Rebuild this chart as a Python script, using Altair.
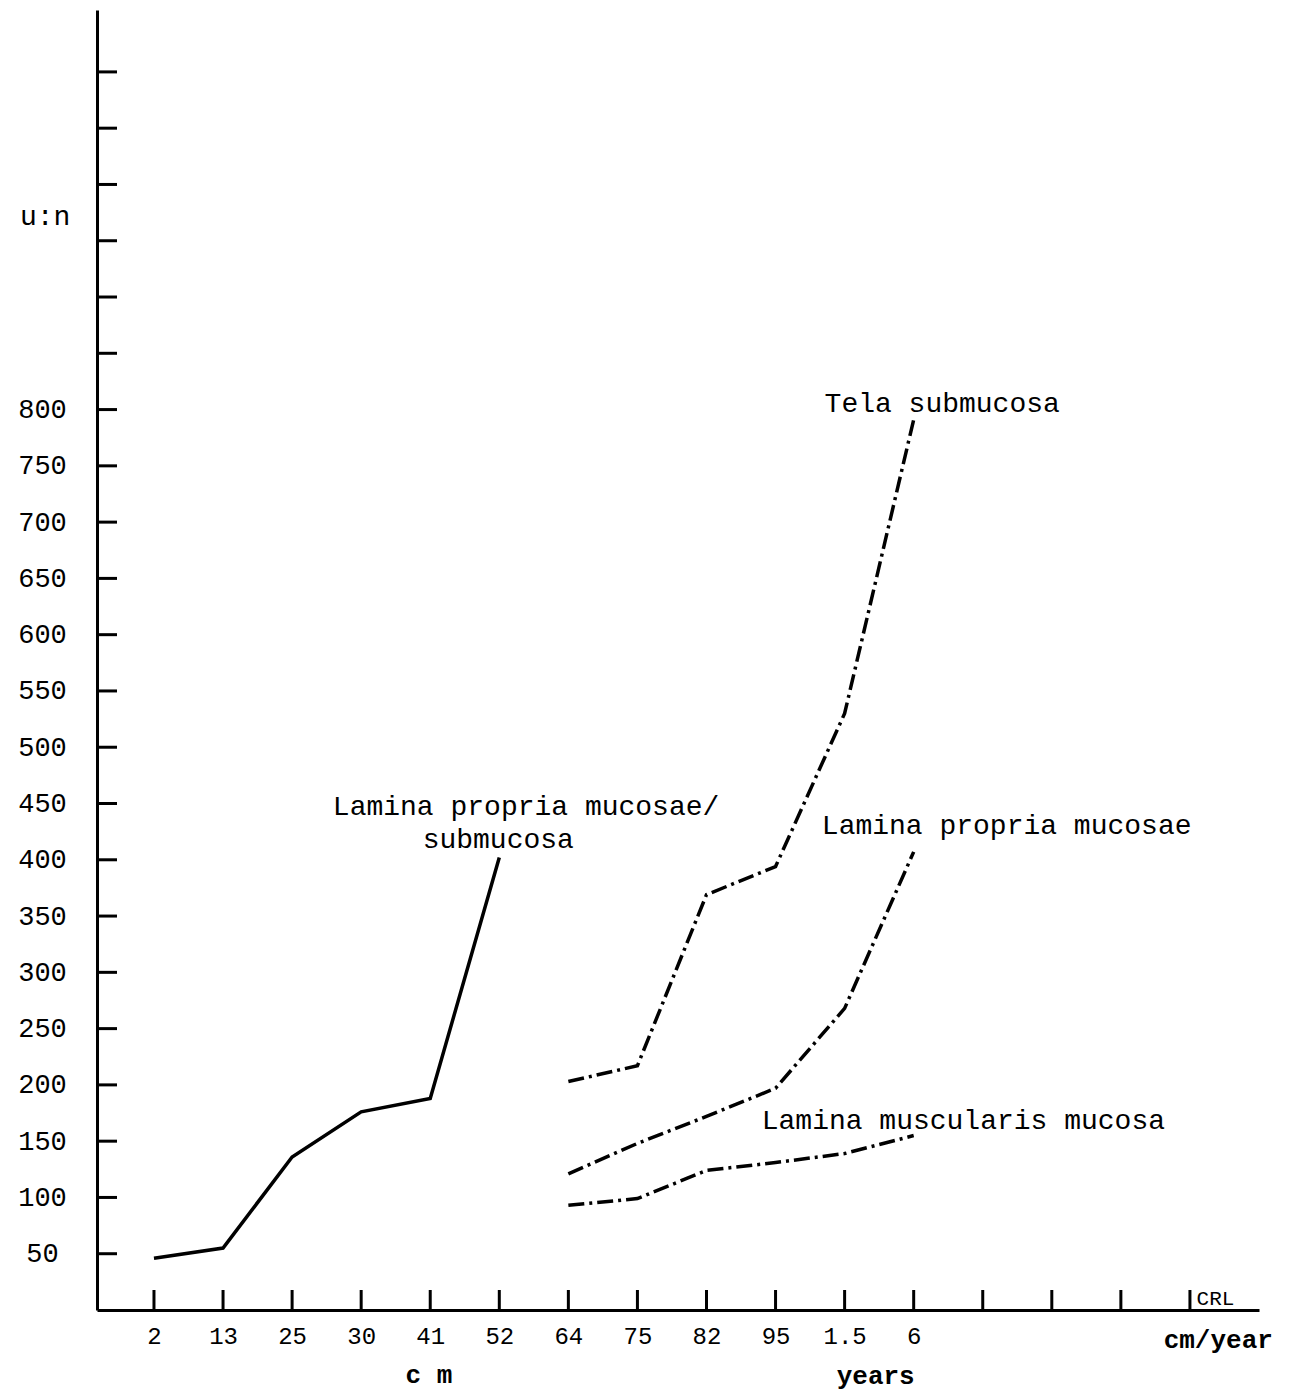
import json
import altair as alt
import pandas as pd

# ---- data ----
x_labels = ["2", "13", "25", "30", "41", "52", "64", "75", "82", "95", "1.5", "6"]
x_index_cm = [0, 1, 2, 3, 4, 5]
x_index_late = [6, 7, 8, 9, 10, 11]

lamina_propria_submucosa = [46, 55, 136, 176, 188, 402]
tela_submucosa = [203, 217, 369, 394, 530, 791]
lamina_propria_mucosae = [121, 148, 172, 197, 268, 407]
lamina_muscularis_mucosa = [93, 99, 124, 131, 139, 155]

y_label_values = [50, 100, 150, 200, 250, 300, 350, 400, 450, 500, 550, 600, 650, 700, 750, 800]
y_tick_values = y_label_values + [850, 900, 950, 1000, 1050, 1100]
x_tick_values = list(range(16))

FONT = "Liberation Mono"
xs = alt.Scale(domain=[-0.825, 16.0], nice=False, zero=False)
ys = alt.Scale(domain=[0, 1155], nice=False, zero=False)

label_expr = "datum.value < %d ? %s[datum.value] : ''" % (len(x_labels), json.dumps(x_labels).replace('"', "'"))

X_AXIS = alt.Axis(
    values=list(range(len(x_labels))), labelExpr=label_expr, ticks=False, grid=False,
    domainColor="black", domainWidth=3, labelFont=FONT, labelFontSize=24,
    labelColor="black", labelPadding=14, title=None, labelOverlap=False)
Y_AXIS = alt.Axis(
    values=y_label_values, ticks=False, grid=False, domainColor="black", domainWidth=3,
    labelFont=FONT, labelFontSize=27, labelColor="black", labelPadding=55, labelAlign="center",
    title=None, labelOverlap=False)


def X():
    return alt.X("i:Q", scale=xs, axis=X_AXIS)


def Y():
    return alt.Y("v:Q", scale=ys, axis=Y_AXIS)


solid_df = pd.DataFrame({"i": x_index_cm, "v": lamina_propria_submucosa})
dash_df = pd.concat([
    pd.DataFrame({"i": x_index_late, "v": tela_submucosa, "s": "Tela submucosa"}),
    pd.DataFrame({"i": x_index_late, "v": lamina_propria_mucosae, "s": "Lamina propria mucosae"}),
    pd.DataFrame({"i": x_index_late, "v": lamina_muscularis_mucosa, "s": "Lamina muscularis mucosa"}),
])

solid = alt.Chart(solid_df).mark_line(color="black", strokeWidth=3.5).encode(x=X(), y=Y())

dashed = alt.Chart(dash_df).mark_line(color="black", strokeWidth=3.5, strokeDash=[16, 5, 3, 5]).encode(
    x=X(), y=Y(), detail="s:N")

xticks = alt.Chart(pd.DataFrame({"i": x_tick_values})).mark_rule(color="black", strokeWidth=3).encode(
    x=X(), y=alt.value(1300), y2=alt.value(1280))

yticks = alt.Chart(pd.DataFrame({"v": y_tick_values})).mark_rule(color="black", strokeWidth=3).encode(
    y=Y(), x=alt.value(0), x2=alt.value(20))

ann_text = ["Tela submucosa", "Lamina propria mucosae/", "submucosa",
            "Lamina propria mucosae", "Lamina muscularis mucosa", "u:n"]
ann_x = [9.71, 2.59, 3.89, 9.67, 8.80, -1.94]
ann_y = [805, 447, 418, 430, 168, 971]
ann = alt.Chart(pd.DataFrame({"t": ann_text, "i": ann_x, "v": ann_y})).mark_text(
    font=FONT, fontSize=28, align="left", baseline="middle", color="black").encode(
    x=X(), y=Y(), text="t:N")

unit_text = ["c m", "years", "cm/year"]
unit_x = [3.98, 10.45, 15.41]
unit_y = [-58, -59, -27]
units = alt.Chart(pd.DataFrame({"t": unit_text, "i": unit_x, "v": unit_y})).mark_text(
    font=FONT, fontSize=26, fontWeight="bold", align="center", baseline="middle", color="black").encode(
    x=X(), y=Y(), text="t:N")

crl = alt.Chart(pd.DataFrame({"t": ["CRL"], "i": [15.37], "v": [1]})).mark_text(
    font=FONT, fontSize=21, align="center", baseline="bottom", color="black").encode(
    x=X(), y=Y(), text="t:N")

chart = alt.layer(solid, dashed, xticks, yticks, ann, units, crl).properties(
    width=1162, height=1300,
    autosize=alt.AutoSizeParams(type="none"),
    padding={"left": 97, "top": 10, "right": 36, "bottom": 83},
    background="white",
).configure_view(stroke=None)

chart.save("out.html", embed_options={"renderer": "svg", "actions": False})
